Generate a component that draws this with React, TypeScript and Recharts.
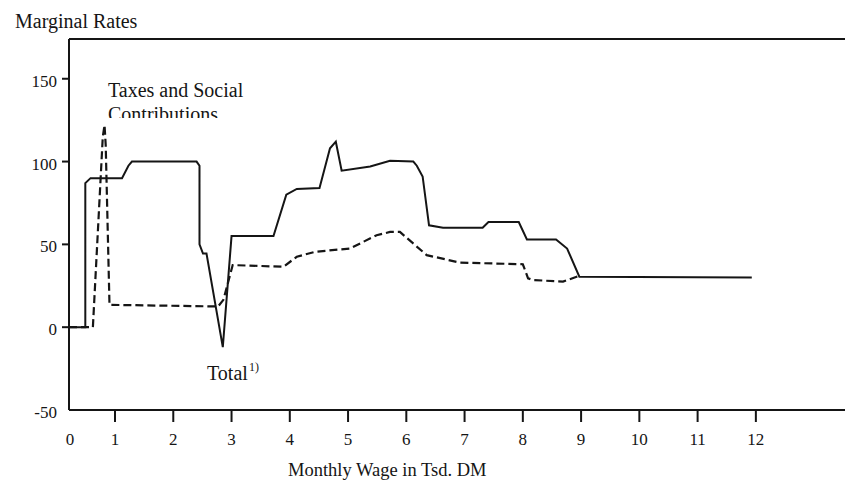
import React from "react";
import { LineChart, Line, XAxis, YAxis, ReferenceLine } from "recharts";

// Monthly wage (Tsd. DM) and marginal rates (%)
const totalX = [0.21, 0.49, 0.49, 0.58, 1.12, 1.23, 1.29, 2.4, 2.45, 2.45, 2.51, 2.57, 2.85, 3.0, 3.72, 3.94, 4.12, 4.51, 4.69, 4.79, 4.89, 5.38, 5.72, 6.12, 6.18, 6.28, 6.39, 6.63, 7.31, 7.41, 7.93, 8.07, 8.57, 8.76, 8.97, 11.93];
const totalY = [0, 0, 87, 90, 90, 97.5, 100, 100, 97.5, 50, 44.5, 44.5, -12, 55, 55, 80, 83.5, 84, 108, 112, 94.5, 97, 100.5, 100, 97.5, 91, 61.5, 60, 60, 63.5, 63.5, 53, 53, 47.5, 30.5, 30];

const taxX = [0.21, 0.62, 0.79, 0.82, 0.84, 0.905, 2.77, 2.86, 3.02, 3.89, 4.12, 4.43, 5.03, 5.49, 5.72, 5.89, 6.35, 6.92, 8.0, 8.09, 8.17, 8.69, 8.95];
const taxY = [0, 0, 115, 122, 110, 13.5, 12.5, 16.5, 37.5, 36.5, 42.5, 45.5, 47.5, 55.5, 57.5, 57.5, 43.5, 39, 38, 29.5, 28.5, 27.5, 30.8];

const X_MIN = 0.21;
const X_MAX = 13.53;
const Y_MIN = -50;
const Y_MAX = 174;
const xTicks = [X_MIN, 1, 2, 3, 4, 5, 6, 7, 8, 9, 10, 11, 12];
const xTickLabels = ["0", "1", "2", "3", "4", "5", "6", "7", "8", "9", "10", "11", "12"];
const yTicks = [-50, 0, 50, 100, 150];

const totalData = totalX.map((x, i) => ({ x, y: totalY[i] }));
const taxData = taxX.map((x, i) => ({ x, y: taxY[i] }));

const FONT = '"Liberation Serif", "Times New Roman", serif';
const INK = "#151515";

const XTick = (props: any) => {
  const { x, y, payload } = props;
  const idx = xTicks.indexOf(payload.value);
  const first = idx === 0;
  return (
    <g>
      {!first && <line x1={x} x2={x} y1={y} y2={y + 12} stroke={INK} strokeWidth={2} />}
      <text x={x + (first ? 1 : 0)} y={y + 35} textAnchor="middle" fontFamily={FONT} fontSize={17} fill={INK}>
        {xTickLabels[idx >= 0 ? idx : 0]}
      </text>
    </g>
  );
};

const YTick = (props: any) => {
  const { x, y, payload } = props;
  const last = payload.value === Y_MIN;
  return (
    <g>
      {!last && <line x1={x - 7} x2={x} y1={y} y2={y} stroke={INK} strokeWidth={2} />}
      <text x={x - 12} y={y + 8} textAnchor="end" fontFamily={FONT} fontSize={17} fill={INK}>
        {payload.value}
      </text>
    </g>
  );
};

export default function App() {
  return (
    <div style={{ position: "absolute", left: 0, top: 0, width: 845, height: 481, background: "#fff", overflow: "hidden" }}>
      <LineChart width={845} height={481} margin={{ top: 39, right: 0, bottom: 0, left: 0 }}>
        <XAxis
          dataKey="x"
          type="number"
          domain={[X_MIN, X_MAX]}
          ticks={xTicks}
          interval={0}
          allowDataOverflow
          height={71}
          tickSize={0}
          tickMargin={0}
          tick={<XTick />}
          axisLine={{ stroke: INK, strokeWidth: 2 }}
        />
        <YAxis
          dataKey="y"
          type="number"
          domain={[Y_MIN, Y_MAX]}
          ticks={yTicks}
          interval={0}
          allowDataOverflow
          width={69}
          tickSize={0}
          tickMargin={0}
          tick={<YTick />}
          axisLine={{ stroke: INK, strokeWidth: 2 }}
        />
        <ReferenceLine y={Y_MAX} stroke={INK} strokeWidth={2} />
        <Line
          data={taxData}
          dataKey="y"
          type="linear"
          stroke={INK}
          strokeWidth={2.2}
          strokeDasharray="8 4"
          dot={false}
          activeDot={false}
          isAnimationActive={false}
        />
        <Line
          data={totalData}
          dataKey="y"
          type="linear"
          stroke={INK}
          strokeWidth={2}
          dot={false}
          activeDot={false}
          isAnimationActive={false}
        />
      </LineChart>
      <svg width={845} height={481} style={{ position: "absolute", left: 0, top: 0, pointerEvents: "none" }}>
        <defs>
          <clipPath id="contribClip">
            <rect x={0} y={0} width={845} height={118} />
          </clipPath>
        </defs>
        <g fontFamily={FONT} fill={INK}>
          <text x={15} y={28} fontSize={20}>Marginal Rates</text>
          <text x={108} y={97} fontSize={20}>Taxes and Social</text>
          <text x={108} y={121} fontSize={20} clipPath="url(#contribClip)">Contributions</text>
          <text x={207} y={379.5} fontSize={20}>
            Total
          </text>
          <text x={249} y={371} fontSize={12}>1)</text>
          <text x={288} y={476} fontSize={18.5}>Monthly Wage in Tsd. DM</text>
        </g>
      </svg>
    </div>
  );
}
